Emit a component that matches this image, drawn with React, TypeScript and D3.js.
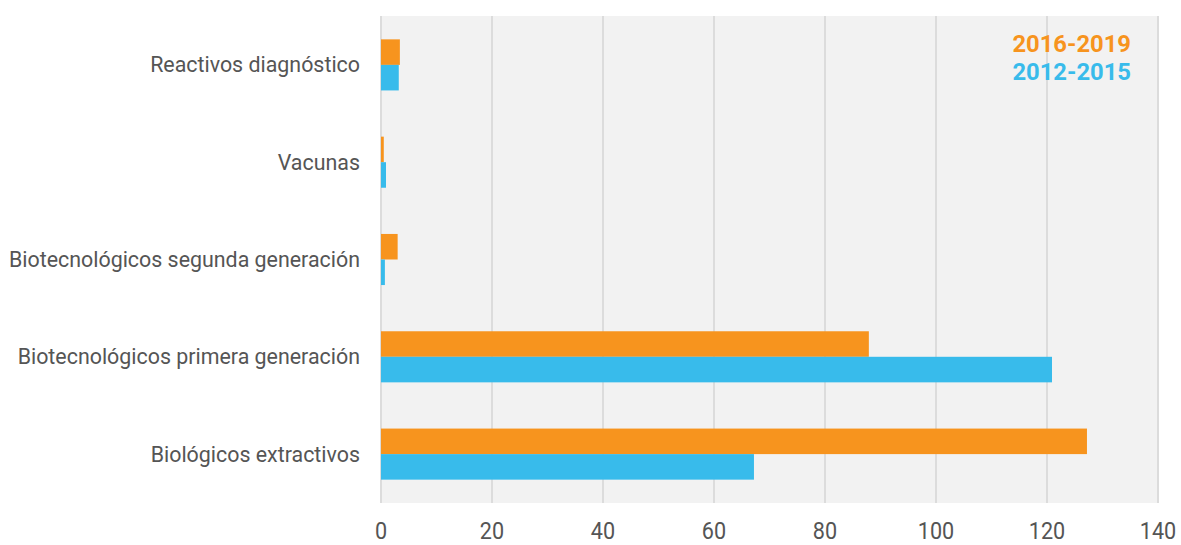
import React from 'react';
import * as d3 from 'd3';

const categories = [
  'Reactivos diagnóstico',
  'Vacunas',
  'Biotecnológicos segunda generación',
  'Biotecnológicos primera generación',
  'Biológicos extractivos',
];
const values2016 = [3.4, 0.5, 3.0, 87.9, 127.2];
const values2012 = [3.2, 0.9, 0.7, 120.9, 67.2];
const xTicks = [0, 20, 40, 60, 80, 100, 120, 140];
const seriesNames = ['2016-2019', '2012-2015'];
const colors = ['#F7941E', '#38BBEB'];

const W = 1181;
const H = 545;
const margin = { top: 16, right: 23, bottom: 42, left: 381 };

export default function App() {
  const innerW = W - margin.left - margin.right;
  const innerH = H - margin.top - margin.bottom;

  const x = d3.scaleLinear().domain([0, 140]).range([0, innerW]);
  const y = d3.scaleBand().domain(categories).range([0, innerH]).paddingInner(0.475).paddingOuter(0.24);
  const sub = d3.scaleBand().domain(seriesNames).range([0, y.bandwidth()]);

  const series = [values2016, values2012];

  return (
    <svg width={W} height={H} style={{ display: 'block', position: 'absolute', left: 0, top: 0 }}>
      <g transform={`translate(${margin.left},${margin.top})`}>
        <rect x={0} y={0} width={innerW} height={innerH} fill="#f2f2f2" />
        {xTicks.map((t) => (
          <line key={t} x1={x(t)} x2={x(t)} y1={0} y2={innerH} stroke="#dcdcdc" strokeWidth={2} />
        ))}
        {categories.map((c, i) => (
          <g key={c} transform={`translate(0,${y(c)})`}>
            {series.map((vals, s) => (
              <rect
                key={s}
                x={x(0)}
                y={sub(seriesNames[s])}
                width={x(vals[i]) - x(0)}
                height={sub.bandwidth()}
                fill={colors[s]}
              />
            ))}
            <text
              x={-21}
              y={y.bandwidth() / 2}
              dy="0.35em"
              textAnchor="end"
              fontFamily="Roboto, sans-serif"
              fontSize={21.4}
              fill="#555"
            >
              {c}
            </text>
          </g>
        ))}
        {/* tick labels, slightly condensed */}
        {xTicks.map((t) => (
          <text
            key={t}
            transform={`translate(${x(t)},${innerH + 36}) scale(0.9,1)`}
            textAnchor="middle"
            fontFamily="Roboto, sans-serif"
            fontSize={24}
            fill="#555"
          >
            {t}
          </text>
        ))}
        {seriesNames.map((n, s) => (
          <text
            key={n}
            x={innerW - 27}
            y={36 + s * 28}
            textAnchor="end"
            fontFamily="Roboto, sans-serif"
            fontWeight="bold"
            fontSize={23.8}
            fill={colors[s]}
          >
            {n}
          </text>
        ))}
      </g>
    </svg>
  );
}
